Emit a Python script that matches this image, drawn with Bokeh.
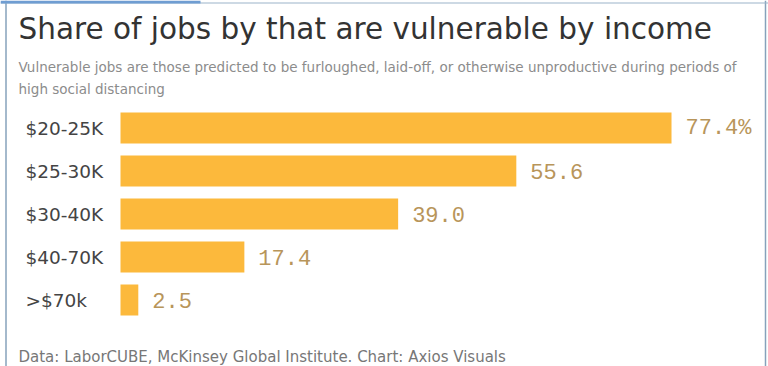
from bokeh.plotting import figure
from bokeh.models import ColumnDataSource, Range1d, Label, Span, BoxAnnotation
from bokeh.core.properties import value
from bokeh.embed import file_html
from bokeh.resources import INLINE

categories = ["$20-25K", "$25-30K", "$30-40K", "$40-70K", ">$70k"]
shares = [77.4, 55.6, 39.0, 17.4, 2.5]
value_labels = ["77.4%", "55.6", "39.0", "17.4", "2.5"]

title = "Share of jobs by that are vulnerable by income"
subtitle1 = "Vulnerable jobs are those predicted to be furloughed, laid-off, or otherwise unproductive during periods of"
subtitle2 = "high social distancing"
footer = "Data: LaborCUBE, McKinsey Global Institute. Chart: Axios Visuals"

W, H = 768, 366
# layout (pixels)
bar_start_px = 120
px_per_unit = 7.119
first_bar_center_px = 127.5
row_px = 43.0

n = len(categories)
ypos = list(range(n))  # row order, top to bottom

src = ColumnDataSource(dict(cat=categories, share=shares, lab=value_labels,
                            y=ypos, zero=[0] * n))

p = figure(width=W, height=H, output_backend="svg", toolbar_location=None,
           x_range=Range1d(-bar_start_px / px_per_unit, (W - bar_start_px) / px_per_unit),
           y_range=Range1d((H - first_bar_center_px) / row_px, -first_bar_center_px / row_px),
           x_axis_location=None, y_axis_location=None,
           min_border_left=0, min_border_right=0, min_border_top=0, min_border_bottom=0)
p.grid.visible = False
p.outline_line_color = None
p.background_fill_color = "white"
p.border_fill_color = "white"

p.hbar(y="y", right="share", left=0, height=31 / row_px, source=src,
       fill_color="#fcb93c", line_color=None)

p.text(x="share", y="y", text="lab", source=src, x_offset=14,
       text_font=value("Liberation Mono"), text_font_size="22px",
       text_color="#b8955a", text_baseline="middle", text_align="left")

p.text(x="zero", y="y", text="cat", source=src, x_offset=-95,
       text_font=value("DejaVu Sans"), text_font_size="18.5px",
       text_color="#444444", text_baseline="middle", text_align="left")

def lab(txt, x, y, size, color):
    p.add_layout(Label(x=x, y=y, x_units="canvas", y_units="canvas", text=txt,
                       text_font="DejaVu Sans", text_font_size=size, text_color=color,
                       text_baseline="alphabetic", text_align="left"))

lab(title, 18, 28.5, "29.5px", "#333333")
lab(subtitle1, 18, 66, "13.5px", "#8c8c8c")
lab(subtitle2, 18, 88, "13.5px", "#8c8c8c")
lab(footer, 18, 356, "15px", "#777777")

# screenshot frame lines
p.add_layout(Span(location=5.5, location_units="canvas", dimension="height",
                  line_color="#86a2bb", line_width=1.5))
p.add_layout(Span(location=765, location_units="canvas", dimension="height",
                  line_color="#86a2bb", line_width=1.5))
p.add_layout(Span(location=2.5, location_units="canvas", dimension="width",
                  line_color="#9cb3c9", line_width=1.2))
p.add_layout(BoxAnnotation(left=0, right=200, top=0, bottom=3,
                           left_units="canvas", right_units="canvas",
                           top_units="canvas", bottom_units="canvas",
                           fill_color="#6f9dd2", fill_alpha=1, line_color=None))

open("out.html", "w").write(file_html(p, INLINE))
